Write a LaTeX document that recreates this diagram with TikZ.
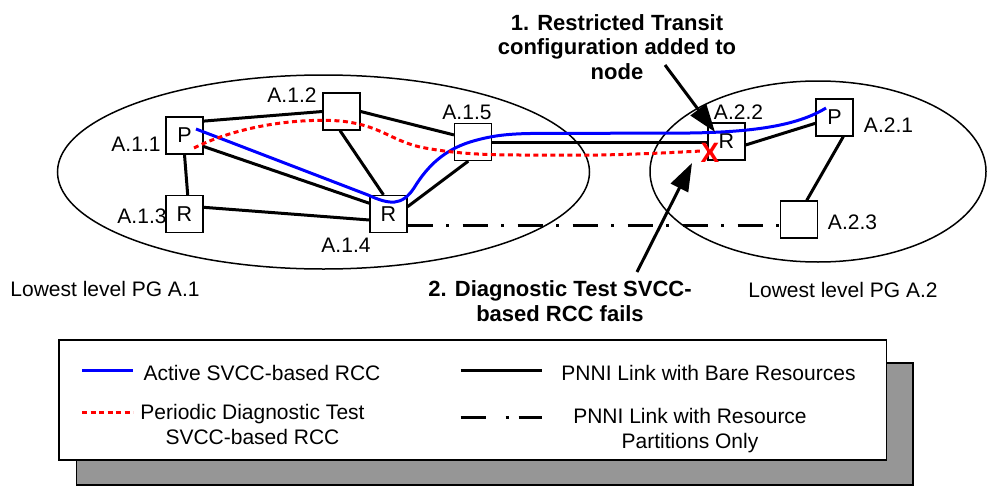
\documentclass[tikz,border=0pt]{standalone}
\usepackage{fontspec}
\setmainfont{Liberation Sans}
\usetikzlibrary{arrows.meta,calc}
\definecolor{shadowgray}{RGB}{150,150,150}
\definecolor{rccblue}{RGB}{0,0,255}
\definecolor{rccred}{RGB}{255,0,0}
\tikzset{
 nodebox/.style={draw, line width=1.2pt, fill=white, minimum width=37pt, minimum height=37pt, inner sep=0pt, font=\fontsize{21.5}{24}\selectfont},
 lbl/.style={inner sep=0pt, font=\fontsize{21}{25}\selectfont},
 boldlbl/.style={inner sep=0pt, align=center, font=\fontsize{22}{24.5}\selectfont\bfseries},
 pglink/.style={line width=3pt},
 partlink/.style={line width=3pt, dash pattern=on 25pt off 13.5pt on 3pt off 13.5pt},
 activerc/.style={line width=3pt, rccblue},
 testrc/.style={line width=3pt, rccred, dash pattern=on 5pt off 3.5pt},
 callout/.style={line width=3pt, -{Triangle[length=28pt,width=19pt]}},
 pgellipse/.style={line width=1.5pt},
}
\begin{document}
\begin{tikzpicture}[x=1pt,y=-1pt]
\useasboundingbox (0,0) rectangle (987,487);
% peer groups
\draw[pgellipse] (323.5,172) ellipse [x radius=266, y radius=97];
\draw[pgellipse] (818,171.5) ellipse [x radius=168, y radius=90.5];
% nodes
\node[nodebox] (a11) at (184.5,135.5) {P};
\node[nodebox] (a12) at (341.5,111.5) {};
\node[nodebox] (a13) at (184.5,214) {R};
\node[nodebox] (a14) at (388.5,214) {R};
\node[nodebox] (a15) at (473,142) {};
\node[nodebox] (a22) at (726.5,141.5) {R};
\node[nodebox] (a21) at (834.5,117.5) {P};
\node[nodebox] (a23) at (799,219.5) {};
% node labels
\node[lbl] (l11) at (136,144) {A.1.1};
\node[lbl] (l12) at (292,95.5) {A.1.2};
\node[lbl] (l13) at (142,216.5) {A.1.3};
\node[lbl] (l14) at (346,245.5) {A.1.4};
\node[lbl] (l15) at (467,112.5) {A.1.5};
\node[lbl] (l22) at (738.5,112.5) {A.2.2};
\node[lbl] (l21) at (888.5,125.5) {A.2.1};
\node[lbl] (l23) at (852.5,222.5) {A.2.3};
\node[lbl] (pg1) at (105,289) {Lowest level PG A.1};
\node[lbl] (pg2) at (843,290) {Lowest level PG A.2};
% links
\draw[pglink] ($(a11.north east)+(0,4.7)$) -- (a12.west);
\draw[pglink] (a12.east) -- ($(a15.north west)+(0,12)$);
\draw[pglink] ($(a12.south)+(-1.5,0)$) -- ($(a14.north)+(-5,0)$);
\draw[pglink] ($(a11.east)+(0,11)$) -- ($(a14.west)+(0,-10.7)$);
\draw[pglink] (a11.south) -- ($(a13.north)+(3.2,0)$);
\draw[pglink] ($(a13.east)+(0,-6.7)$) -- ($(a14.west)+(0,6)$);
\draw[pglink] ($(a14.east)+(0,-7.3)$) -- ($(a15.south)+(-4.7,0)$);
\draw[pglink] (a15.east) -- (a15.east -| a22.west);
\draw[pglink] ($(a22.east)+(0,3.5)$) -- ($(a21.west)+(0,5.8)$);
\draw[pglink] ($(a21.south)+(8.8,0)$) -- ($(a23.north)+(7.7,0)$);
\draw[partlink] ($(a14.east)+(0,11)$) -- ($(a23.west)+(0,5.5)$);
% RCC paths
\draw[activerc] (196,129) -- (368,195) .. controls (390,205) and (402,206) .. (414,188)
  .. controls (428,165) and (445,150) .. (470,142)
  .. controls (490,136) and (505,134) .. (530,133.5) -- (690,133)
  .. controls (760,132) and (800,124) .. (826,108);
\draw[testrc] (194,148) .. controls (240,125) and (300,118) .. (340,121)
  .. controls (380,125) and (390,140) .. (420,147)
  .. controls (450,153) and (480,155) .. (520,155) -- (600,155)
  .. controls (650,154) and (680,152) .. (702,151);
\node[inner sep=0pt, text=rccred, font=\fontsize{28}{30}\selectfont\bfseries] (xmark) at (710,153) {X};
% callouts
\node[boldlbl] (c1) at (617,47) {1. Restricted Transit\\configuration added to\\node};
\node[boldlbl] (c2) at (560,301) {2. Diagnostic Test SVCC-\\based RCC fails};
\coordinate (c1s) at (665,65);
\coordinate (c1e) at (715,132);
\coordinate (c2s) at (637,272);
\coordinate (c2e) at (692,163);
\draw[callout] (c1s) -- (c1e);
\draw[callout] (c2s) -- (c2e);
% legend
\draw[line width=1.5pt, fill=shadowgray] (76.7,363) rectangle (913,485);
\draw[line width=1.5pt, fill=white] (59,340) rectangle (886.7,460);
\coordinate (k1a) at (82,370); \coordinate (k1b) at (133,370);
\coordinate (k2a) at (82,412); \coordinate (k2b) at (133,412);
\coordinate (k3a) at (460.7,370); \coordinate (k3b) at (541.7,370);
\coordinate (k4a) at (460.7,417.7); \coordinate (k4b) at (541.7,417.7);
\draw[activerc] (k1a) -- (k1b);
\draw[testrc] (k2a) -- (k2b);
\draw[pglink] (k3a) -- (k3b);
\draw[line width=3pt, dash pattern=on 25pt off 20pt on 3pt off 10pt on 30pt] (k4a) -- (k4b);
\node[lbl] (t1) at (262,373) {Active SVCC-based RCC};
\node[lbl, align=center] (t2) at (252.5,424) {Periodic Diagnostic Test\\SVCC-based RCC};
\node[lbl] (t3) at (708.5,373) {PNNI Link with Bare Resources};
\node[lbl, align=center] (t4) at (690,431) {PNNI Link with Resource\\Partitions Only};
\end{tikzpicture}
\end{document}
